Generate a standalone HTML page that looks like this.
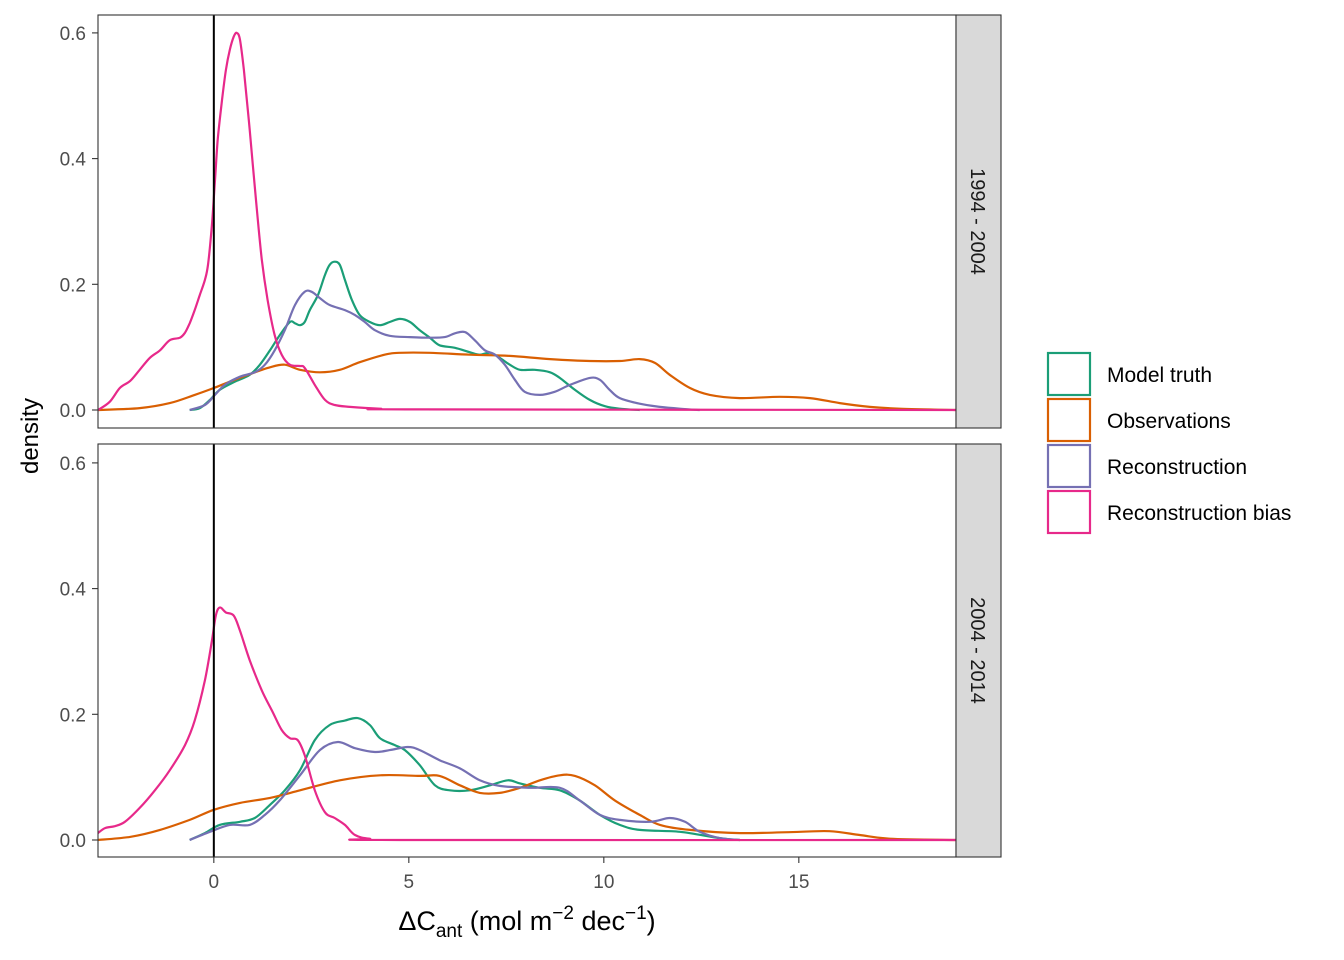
<!DOCTYPE html>
<html><head><meta charset="utf-8"><style>
body{margin:0;background:#fff;}
svg{display:block;font-family:"Liberation Sans",sans-serif;}
</style></head><body>
<svg id="chart" width="1344" height="960"></svg>
<script>
const ticksX=[0,5,10,15];
const ticksY=[0,0.2,0.4,0.6];
const seriesNames=["Model truth","Observations","Reconstruction","Reconstruction bias"];
const colors=["#1B9E77","#D95F02","#7570B3","#E7298A"];
const panelLabels=["1994 - 2004","2004 - 2014"];
// Panel 1
const p1GreenX=[-0.62,-0.36,-0.10,0.15,0.54,0.92,1.18,1.44,1.69,1.95,2.08,2.21,2.33,2.46,2.67,2.85,2.97,3.10,3.23,3.36,3.54,3.74,4.00,4.26,4.51,4.77,5.03,5.28,5.54,5.79,6.18,6.56,6.82,7.08,7.33,7.59,7.85,8.23,8.62,8.87,9.26,9.64,10.03,10.41,10.92];
const p1GreenY=[0,.003,.016,.032,.045,.056,.072,.095,.119,.14,.138,.135,.14,.159,.183,.215,.231,.236,.231,.207,.175,.151,.140,.135,.140,.145,.140,.127,.115,.103,.099,.092,.088,.091,.083,.072,.064,.064,.060,.051,.032,.016,.006,.002,0];
const p1OrangeX=[-2.97,-1.90,-1.13,-0.49,0,0.41,0.92,1.44,1.82,2.21,2.72,3.23,3.74,4.38,4.77,5.54,6.56,7.59,8.62,9.64,10.41,10.92,11.31,11.69,12.21,12.72,13.49,14.51,15.28,16.05,16.82,17.59,19.03];
const p1OrangeY=[0,.003,.011,.024,.035,.045,.057,.068,.072,.064,.060,.064,.076,.088,.091,.091,.088,.086,.081,.078,.078,.081,.075,.056,.035,.024,.019,.021,.019,.011,.005,.002,0];
const p1PurpleX=[-0.62,-0.23,0.03,0.28,0.67,1.05,1.31,1.56,1.82,2.08,2.33,2.51,2.72,2.97,3.36,3.62,3.87,4.13,4.51,5.03,5.54,5.92,6.18,6.44,6.69,6.95,7.21,7.46,7.72,7.97,8.36,8.74,9.13,9.64,9.90,10.15,10.41,10.92,11.44,11.95,12.46];
const p1PurpleY=[0,.008,.024,.040,.053,.060,.072,.095,.127,.167,.188,.188,.178,.167,.159,.151,.140,.127,.118,.116,.115,.116,.122,.124,.111,.095,.088,.072,.048,.029,.024,.029,.040,.051,.048,.032,.019,.010,.005,.002,0];
const p1PinkX=[-2.97,-2.67,-2.41,-2.15,-1.90,-1.64,-1.38,-1.13,-0.87,-0.74,-0.62,-0.49,-0.36,-0.23,-0.15,-0.05,0.03,0.10,0.21,0.31,0.41,0.51,0.59,0.67,0.77,0.92,1.08,1.23,1.38,1.56,1.74,1.95,2.21,2.33,2.59,2.85,3.10,3.49,4.26,5.28,19.03];
const p1PinkY=[0,.013,.035,.046,.064,.083,.095,.111,.115,.123,.138,.159,.183,.207,.231,.294,.366,.43,.493,.541,.573,.594,.6,.589,.541,.446,.334,.239,.175,.119,.088,.072,.07,.067,.04,.016,.008,.005,.002,.001,0];
// Panel 2
const p2GreenX=[-0.62,-0.23,0.15,0.67,1.05,1.44,1.82,2.21,2.59,2.97,3.36,3.69,4.00,4.26,4.64,4.90,5.28,5.67,6.05,6.56,7.08,7.54,7.85,8.36,8.87,9.38,9.90,10.41,10.92,11.95,12.97,13.49];
const p2GreenY=[0,.011,.024,.029,.035,.056,.079,.111,.159,.183,.190,.194,.183,.162,.151,.143,.119,.087,.079,.079,.087,.095,.090,.083,.079,.063,.040,.024,.016,.013,.003,0];
const p2OrangeX=[-2.97,-2.15,-1.38,-0.62,0,0.67,1.44,2.21,3.23,4.26,5.28,5.79,6.31,6.82,7.33,7.85,8.36,8.87,9.26,9.77,10.28,10.92,11.44,12.21,13.49,15.03,15.79,16.56,17.33,19.03];
const p2OrangeY=[0,.005,.016,.032,.048,.059,.067,.079,.095,.103,.102,.102,.087,.075,.075,.083,.095,.103,.102,.087,.063,.040,.024,.016,.011,.013,.014,.008,.002,0];
const p2PurpleX=[-0.62,-0.10,0.41,0.92,1.31,1.69,2.21,2.72,3.18,3.62,4.13,4.51,4.97,5.28,5.79,6.31,6.82,7.33,8.10,8.87,9.38,9.90,10.41,11.18,11.69,12.08,12.46,12.97,13.49];
const p2PurpleY=[0,.013,.024,.024,.040,.063,.103,.143,.156,.146,.140,.143,.148,.143,.127,.114,.095,.086,.083,.083,.063,.040,.032,.029,.035,.029,.013,.003,0];
const p2PinkX=[-2.97,-2.79,-2.54,-2.28,-1.90,-1.51,-1.13,-0.74,-0.49,-0.23,-0.05,0.05,0.15,0.31,0.51,0.67,0.92,1.23,1.49,1.74,1.95,2.15,2.33,2.59,2.85,3.10,3.36,3.62,4.00,4.77,19.03];
const p2PinkY=[.011,.019,.022,.029,.051,.079,.111,.151,.190,.254,.317,.357,.370,.362,.357,.333,.286,.238,.206,.175,.162,.159,.135,.079,.044,.035,.024,.008,.002,0,0];

const NS="http://www.w3.org/2000/svg";
const svg=document.getElementById('chart');
function mk(tag,attrs,parent){const e=document.createElementNS(NS,tag);for(const k in attrs)e.setAttribute(k,attrs[k]);(parent||svg).appendChild(e);return e;}
const L=98,R=956,xMin=-2.97,xMax=19.03;
const sx=v=>L+(v-xMin)/(xMax-xMin)*(R-L);
const panels=[{top:15,bot:428,base:410},{top:444,bot:857,base:840}];
const yScale=628.5;
const panelData=[
 [[p1GreenX,p1GreenY],[p1OrangeX,p1OrangeY],[p1PurpleX,p1PurpleY],[p1PinkX,p1PinkY]],
 [[p2GreenX,p2GreenY],[p2OrangeX,p2OrangeY],[p2PurpleX,p2PurpleY],[p2PinkX,p2PinkY]]];
function pathD(pts){
 let d="M"+pts[0][0]+","+pts[0][1];
 for(let i=0;i<pts.length-1;i++){
  const p0=pts[Math.max(0,i-1)],p1=pts[i],p2=pts[i+1],p3=pts[Math.min(pts.length-1,i+2)];
  const c1x=p1[0]+(p2[0]-p0[0])/6,c1y=p1[1]+(p2[1]-p0[1])/6;
  const c2x=p2[0]-(p3[0]-p1[0])/6,c2y=p2[1]-(p3[1]-p1[1])/6;
  d+=` C${c1x.toFixed(1)},${c1y.toFixed(1)} ${c2x.toFixed(1)},${c2y.toFixed(1)} ${p2[0].toFixed(1)},${p2[1].toFixed(1)}`;
 }
 return d;
}
panels.forEach((p,pi)=>{
 const sy=v=>p.base-v*yScale;
 const g=mk('g',{});
 
 
 const clipId='clip'+pi;
 const cp=mk('clipPath',{id:clipId},g);mk('rect',{x:L,y:p.top,width:R-L,height:p.bot-p.top},cp);
 // series
 panelData[pi].forEach((s,si)=>{
  const pts=s[0].map((x,i)=>[sx(x),sy(s[1][i])]);
  const path=mk('path',{d:pathD(pts),fill:'none',stroke:colors[si],'stroke-width':2.2,'clip-path':`url(#${clipId})`},g);
  
  
 });
 const vl=mk('line',{x1:sx(0),x2:sx(0),y1:p.top,y2:p.bot,stroke:'#000','stroke-width':2},g);
 
 
 const border=mk('rect',{x:L,y:p.top,width:R-L,height:p.bot-p.top,fill:'none',stroke:'#333','stroke-width':1.1},g);
 
 
 ticksY.forEach(t=>{
  mk('line',{x1:92,x2:98,y1:sy(t),y2:sy(t),stroke:'#333','stroke-width':1.1},g);
  const tx=mk('text',{x:86,y:sy(t)+7,'text-anchor':'end','font-size':19,fill:'#4d4d4d'},g);
  tx.textContent=t.toFixed(1);
  
  
 });
 const strip=mk('rect',{x:956,y:p.top,width:45,height:p.bot-p.top,fill:'#D9D9D9',stroke:'#333','stroke-width':1.1},g);
 
 
 const cy=(p.top+p.bot)/2;
 const st=mk('text',{x:0,y:0,transform:`translate(971,${cy}) rotate(90)`,'text-anchor':'middle','font-size':20,fill:'#1a1a1a'},g);
 st.textContent=panelLabels[pi];
 
 
});
ticksX.forEach(t=>{
 mk('line',{x1:sx(t),x2:sx(t),y1:857,y2:863,stroke:'#333','stroke-width':1.1});
 const tx=mk('text',{x:sx(t),y:888,'text-anchor':'middle','font-size':19,fill:'#4d4d4d'});
 tx.textContent=t;
 
 
});
const yt=mk('text',{transform:'translate(38,436) rotate(-90)','text-anchor':'middle','font-size':24,fill:'#000'});
yt.textContent='density';


const xt=mk('text',{x:527,y:930,'text-anchor':'middle','font-size':27,fill:'#000'});
xt.innerHTML='ΔC<tspan font-size="19" dy="7">ant</tspan><tspan dy="-7"> (mol m</tspan><tspan font-size="19" dy="-11">−2</tspan><tspan dy="11"> dec</tspan><tspan font-size="19" dy="-11">−1</tspan><tspan dy="11">)</tspan>';


const keyY=[353,399,445,491];
seriesNames.forEach((n,i)=>{
 const g=mk('g',{});
 
 
 mk('rect',{x:1048,y:keyY[i],width:42,height:42,fill:'#fff',stroke:colors[i],'stroke-width':2.2},g);
 const t=mk('text',{x:1107,y:keyY[i]+29,'font-size':21,fill:'#000'},g);
 t.textContent=n;
});
</script>
</body></html>
